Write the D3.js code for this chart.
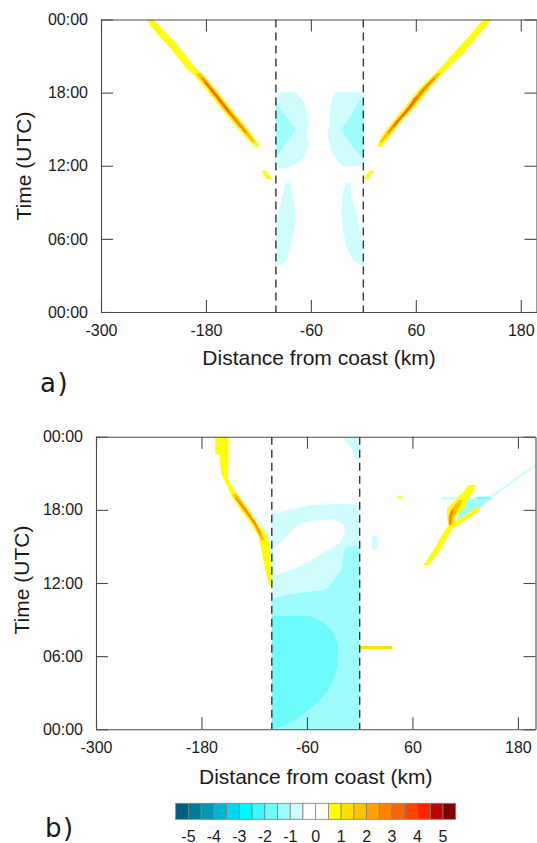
<!DOCTYPE html>
<html><head><meta charset="utf-8">
<script src="https://cdn.jsdelivr.net/npm/d3@7"></script>
<style>
body{margin:0;background:#fff}
svg{display:block}
text{font-family:"Liberation Sans",Arial,sans-serif;fill:#1a1a1a}
</style>
</head><body>
<svg id="chart" width="537" height="843"></svg>
<script>
// ---------- axis / legend data ----------
const xTicks = [-300, -180, -60, 60, 180];
const yTicks = [0, 6, 12, 18, 24];
const yTickLabels = ["00:00", "06:00", "12:00", "18:00", "00:00"];
const coastLines = [-100, 0];
const levels = [-5,-4.5,-4,-3.5,-3,-2.5,-2,-1.5,-1,-0.5,0,0.5,1,1.5,2,2.5,3,3.5,4,4.5,5];
const palette = ["#005e7e","#007a99","#0097b5","#00b5d3","#00d8f2","#00f8ff","#38fbff","#6cfcfc",
                 "#9ffcfc","#cffcfc","#ffffff","#ffffff","#ffff00","#ffe000","#ffc000","#ffa200",
                 "#ff8400","#ff6400","#ff4400","#ff2200","#c00000","#7f0000"];
const cbLabels = [-5,-4,-3,-2,-1,0,1,2,3,4,5];

// ---------- panel a : polygons [km, hour] ----------
const aLeftUpperLight = [[-100,17.5],[-95.6,18.07],[-78.4,18.07],[-68.9,17.39],[-65,16.43],[-62.1,15.48],[-65,14.52],[-62.1,13.84],[-65,13.15],[-68.9,12.6],[-78.4,12.06],[-89.8,11.79],[-100,11.79]];
const aLeftUpperMid = [[-100,17.4],[-91.8,16.3],[-84.1,15.61],[-77.3,14.93],[-84.1,14.25],[-91.8,13.56],[-99.3,12.74],[-100,12.6]];
const aRightUpperLight = [[0,17.9],[-7.9,18.07],[-31.6,18.07],[-36.5,17.39],[-38.4,16.43],[-38.4,15.48],[-41.1,14.52],[-38.4,13.84],[-36.5,13.15],[-28.9,12.4],[-23.2,11.95],[0,11.95]];
const aRightUpperMid = [[0,17.5],[-5,17.33],[-13,16.3],[-19,15.61],[-26,14.93],[-19,14.25],[-12,13.56],[-3,12.74],[0,12.6]];
const aLeftLowerLight = [[-88.7,10.56],[-83.3,10.56],[-80.3,9.46],[-77.3,8.1],[-78.4,7.0],[-83.3,5.36],[-87.4,4.27],[-93,3.86],[-100,3.86],[-100,7.0],[-97.5,8.1],[-92.5,9.46]];
const aRightLowerLight = [[-20.2,10.56],[-14.8,10.56],[-13.7,9.46],[-7.9,8.1],[-4.1,6.73],[0,5.36],[0,3.86],[-4,3.86],[-11.8,4.27],[-19.4,5.36],[-23.2,6.73],[-25.1,8.1],[-24,9.46]];
const aLeftDot = [[-116.4,11.59],[-111.5,11.59],[-105,10.89],[-110.7,10.89]];
const aRightDot = [[-0.4,10.89],[5.3,10.89],[13,11.59],[7.3,11.59]];
// bands: rows [hour, km left, km right]
const aLeftBand = [[24,-248,-240],[22.86,-236,-225],[21.5,-219,-208],[20.1,-204,-193],[19.3,-192,-181],[18.2,-179,-168],[16.8,-164,-153],[15.5,-149,-138],[14.4,-135.5,-126],[13.56,-124,-118.5]];
const aLeftCore1 = [[19.6,-192,-186],[18.2,-176,-170],[16.8,-161,-155],[15.5,-146,-140],[14.4,-132.5,-128],[13.9,-126,-123]];
const aLeftCore2 = [[19.2,-186,-183],[18.2,-175,-171],[16.8,-160,-156],[15.5,-145,-141.5],[14.7,-136,-133]];
const aLeftCore3 = [[18.9,-182.5,-180.5],[18.2,-174.5,-172.5],[17,-161.5,-159],[16.3,-154,-152]];
const aRightBand = [[24,136.7,146.3],[22.86,123.4,132.9],[21.5,106.3,117.7],[20.1,89.2,98.7],[19.3,77.7,87.2],[18.2,62.4,73.8],[16.8,47.2,58.6],[15.5,32,41.5],[14.4,20.6,30.1],[13.56,15.6,20.6]];
const aRightCore1 = [[19.6,84,89],[18.2,65,71],[16.8,50,56],[15.5,35,39.5],[14.4,23,28],[13.9,18.5,21.5]];
const aRightCore2 = [[19.2,80,83],[18.2,66,70],[16.8,51,55],[15.5,35.5,39],[14.7,27,29.5]];
const aRightCore3 = [[17.6,58,60.5],[16.8,52,54.5],[15.8,40,42.5],[15.2,34,36]];

// ---------- panel b ----------
const bCoastLight = [[-100,0],[0,0],[0,18.4],[-22,18.5],[-56.7,18.4],[-68,18.2],[-87,17.9],[-100,17.7]];
const bHole = [[-96.5,14.9],[-83.2,15.86],[-71.8,16.68],[-56.7,17.09],[-30.2,17.23],[-18.8,16.82],[-16.9,16.13],[-22.6,15.31],[-37.7,14.63],[-52.9,13.95],[-71.8,13.26],[-87,12.85],[-96.5,12.58]];
const bCoastMid = [[-100,0],[0,0],[0,15.04],[-13.1,15.04],[-16.9,14.9],[-18.8,14.22],[-20.6,13.13],[-26.3,12.58],[-32,12.03],[-37.7,11.49],[-49,11.35],[-68,11.2],[-87,10.99],[-100,10.66]];
const bCoastInner = [[-100,0],[-87,0.27],[-71.8,0.82],[-52.9,1.91],[-37.7,3.0],[-28.3,4.37],[-24.5,5.46],[-24.5,6.83],[-30.2,7.92],[-41.6,8.75],[-56.7,9.29],[-100,9.29]];
const bTopBlob = [[-17,24],[0,24],[0,22.1],[-4,22.1],[-9,23.0],[-17,23.7]];
const bSmallBlob = [[14,15.9],[20,15.9],[21,15.3],[19,14.7],[14,14.8]];
const bSpur = [[0,6.56],[37,6.56],[37,6.83],[0,6.83]];
const bStrip = [[93.6,18.81],[150.5,18.81],[150.5,19.08],[93.6,19.08]];
const bStripBright = [[133,18.81],[150,18.81],[150,19.08],[133,19.08]];
const bDiag = [[148,18.85],[200,21.55],[200,21.8],[148,19.1]];
const bWedge = [[109.9,17.03],[116.4,18.81],[148.6,18.95],[137.2,18.13],[118.2,17.31]];
const bRightEdge = [[101,16.5],[106,16.5],[137,17.95],[137,18.2],[133,18.2],[104,16.8]];
const bDash = [[42.4,18.95],[48,18.95],[48,19.15],[42.4,19.15]];
const bLeftFringe = [[19.0,-141,-135],[18.0,-129,-124],[17.0,-118,-113],[16.0,-107,-103],[14.5,-101.5,-99],[12.5,-100,-98.5]];
const bLeftBand = [[24,-164.4,-149.4],[22.6,-164.4,-149.4],[22.55,-159.5,-149.4],[21.7,-159.5,-149.4],[21.6,-158,-149.4],[21.0,-158,-150],[20.6,-155,-150],[20.0,-151,-146],[19.14,-146,-138],[18.05,-136,-126.6],[16.95,-124.7,-117],[15.86,-115.2,-104.5],[14.5,-111.3,-101.9],[13.1,-107.6,-101],[11.75,-102.7,-99]];
const bLeftCore1 = [[19.3,-145,-140],[18.05,-133.5,-128],[16.95,-122,-118],[15.5,-112,-108]];
const bLeftCore2 = [[19.0,-142.5,-140.5],[18.05,-132,-129.5],[16.95,-121,-118.5],[16.0,-113.5,-111.5]];
const bRightBand = [[13.48,72.7,78.4],[14.7,84.1,91.7],[15.94,93.6,101.2],[16.76,101.2,108],[17.44,99.2,108.7],[18.13,99.2,118.2],[18.8,108.7,122],[19.5,118.2,129.6],[20.04,123.9,131.5]];
const bRightCore1 = [[16.7,101.5,105],[17.44,101,107],[18.13,105,113],[18.8,113,117]];
const bRightCore2 = [[16.8,101.5,103.5],[17.44,101.5,105],[18.0,104,107]];

// layer tables: [kind, data, value]
const panelALayers = [
  ["poly", aLeftUpperLight, -0.75], ["poly", aRightUpperLight, -0.75],
  ["poly", aLeftUpperMid, -1.25], ["poly", aRightUpperMid, -1.25],
  ["poly", aLeftLowerLight, -0.75], ["poly", aRightLowerLight, -0.75],
  ["poly", aLeftDot, 0.75], ["poly", aRightDot, 0.75],
  ["band", aLeftBand, 0.75], ["band", aLeftCore1, 1.75], ["band", aLeftCore2, 2.75], ["band", aLeftCore3, 3.25],
  ["band", aRightBand, 0.75], ["band", aRightCore1, 1.75], ["band", aRightCore2, 2.75], ["band", aRightCore3, 3.25]
];
const panelBLayers = [
  ["poly", bCoastLight, -0.75], ["poly", bHole, 0.25], ["poly", bCoastMid, -1.25], ["poly", bCoastInner, -1.75],
  ["poly", bTopBlob, -0.75], ["poly", bSmallBlob, -0.75],
  ["band", bLeftFringe, -0.75], ["band", bLeftBand, 0.75], ["band", bLeftCore1, 1.75], ["band", bLeftCore2, 2.75],
  ["poly", bSpur, 1.25], ["poly", bStrip, -0.75], ["poly", bStripBright, -1.75], ["poly", bDiag, -0.75],
  ["poly", bWedge, -1.25], ["band", bRightBand, 0.75], ["poly", bRightEdge, 0.75],
  ["band", bRightCore1, 1.75], ["band", bRightCore2, 2.75], ["poly", bDash, 0.75]
];

// ---------- drawing ----------
const svg = d3.select("#chart");
const color = d3.scaleThreshold().domain(levels).range(palette);

function drawPanel(id, cfg, layers) {
  const x = d3.scaleLinear().domain(cfg.xDomain).range([cfg.left, cfg.right]);
  const y = d3.scaleLinear().domain([0, 24]).range([cfg.bottom, cfg.top]);
  svg.append("clipPath").attr("id", "clip" + id).append("rect")
    .attr("x", cfg.left).attr("y", cfg.top)
    .attr("width", cfg.right - cfg.left).attr("height", cfg.bottom - cfg.top);
  const g = svg.append("g").attr("clip-path", `url(#clip${id})`);
  const poly = d3.line().x(d => x(d[0])).y(d => y(d[1])).curve(d3.curveLinearClosed);
  const band = d3.area().y(d => y(d[0])).x0(d => x(d[1])).x1(d => x(d[2]));
  layers.forEach(([kind, data, v]) => {
    g.append("path").attr("d", kind === "poly" ? poly(data) : band(data))
      .attr("fill", color(v)).attr("stroke", "none");
  });
  g.selectAll("line.coast").data(coastLines).join("line").attr("class", "coast")
    .attr("x1", d => x(d)).attr("x2", d => x(d))
    .attr("y1", cfg.top).attr("y2", cfg.bottom)
    .attr("stroke", "#333").attr("stroke-width", 1.4).attr("stroke-dasharray", "8,5");

  const ax = svg.append("g");
  ax.append("g").attr("transform", `translate(0,${cfg.bottom})`)
    .call(d3.axisBottom(x).tickValues(xTicks).tickFormat(d => String(d)).tickSizeInner(-12).tickSizeOuter(0).tickPadding(12.5));
  ax.append("g").attr("transform", `translate(0,${cfg.top})`)
    .call(d3.axisTop(x).tickValues(xTicks).tickSizeInner(-12).tickSizeOuter(0).tickFormat(""));
  ax.append("g").attr("transform", `translate(${cfg.left},0)`)
    .call(d3.axisLeft(y).tickValues(yTicks).tickFormat((d, i) => yTickLabels[i]).tickSizeInner(-12).tickSizeOuter(0).tickPadding(13));
  ax.append("g").attr("transform", `translate(${cfg.right},0)`)
    .call(d3.axisRight(y).tickValues(yTicks).tickSizeInner(-12).tickSizeOuter(0).tickFormat(""));
  ax.selectAll("path.domain, line").attr("stroke", "#4a4a4a").attr("stroke-width", 1.1);
  ax.selectAll("text").attr("font-size", 16).attr("font-family", '"Liberation Sans",Arial,sans-serif').attr("fill", "#1a1a1a");

  svg.append("text").attr("x", cfg.xTitleX).attr("y", cfg.xTitleY)
    .attr("text-anchor", "middle").attr("font-size", 21).text("Distance from coast (km)");
  svg.append("text").attr("transform", `translate(${cfg.yTitleX},${cfg.yTitleY}) rotate(-90)`)
    .attr("text-anchor", "middle").attr("font-size", 21).text("Time (UTC)");
  svg.append("text").attr("x", cfg.tagX).attr("y", cfg.tagY)
    .attr("font-size", 26).attr("letter-spacing", "1.5px")
    .style("font-family", '"DejaVu Sans",sans-serif').text(cfg.tag);
}

drawPanel("a", {xDomain: [-300, 198], left: 101, right: 536.5, top: 19.5, bottom: 312,
  xTitleX: 319, xTitleY: 365, yTitleX: 31, yTitleY: 166, tag: "a)", tagX: 40, tagY: 392}, panelALayers);
drawPanel("b", {xDomain: [-300, 200], left: 96, right: 535.5, top: 436.7, bottom: 729.3,
  xTitleX: 315.7, xTitleY: 784, yTitleX: 29, yTitleY: 580, tag: "b)", tagX: 45, tagY: 837}, panelBLayers);

// ---------- colour bar ----------
const cbEdges = [-5.5].concat(levels, [5.5]);
const cb = d3.scaleLinear().domain([-5.5, 5.5]).range([175.7, 455.7]);
const cbG = svg.append("g");
cbG.selectAll("rect").data(palette).join("rect")
  .attr("x", (d, i) => cb(cbEdges[i])).attr("width", (d, i) => cb(cbEdges[i + 1]) - cb(cbEdges[i]))
  .attr("y", 803.3).attr("height", 16).attr("fill", d => d)
  .attr("stroke", "#808080").attr("stroke-width", 0.8);
cbG.selectAll("text").data(cbLabels).join("text")
  .attr("x", d => cb(d)).attr("y", 841.5).attr("text-anchor", "middle")
  .attr("font-size", 16).text(d => d < 0 ? "-" + Math.abs(d) : String(d));
</script>
</body></html>
